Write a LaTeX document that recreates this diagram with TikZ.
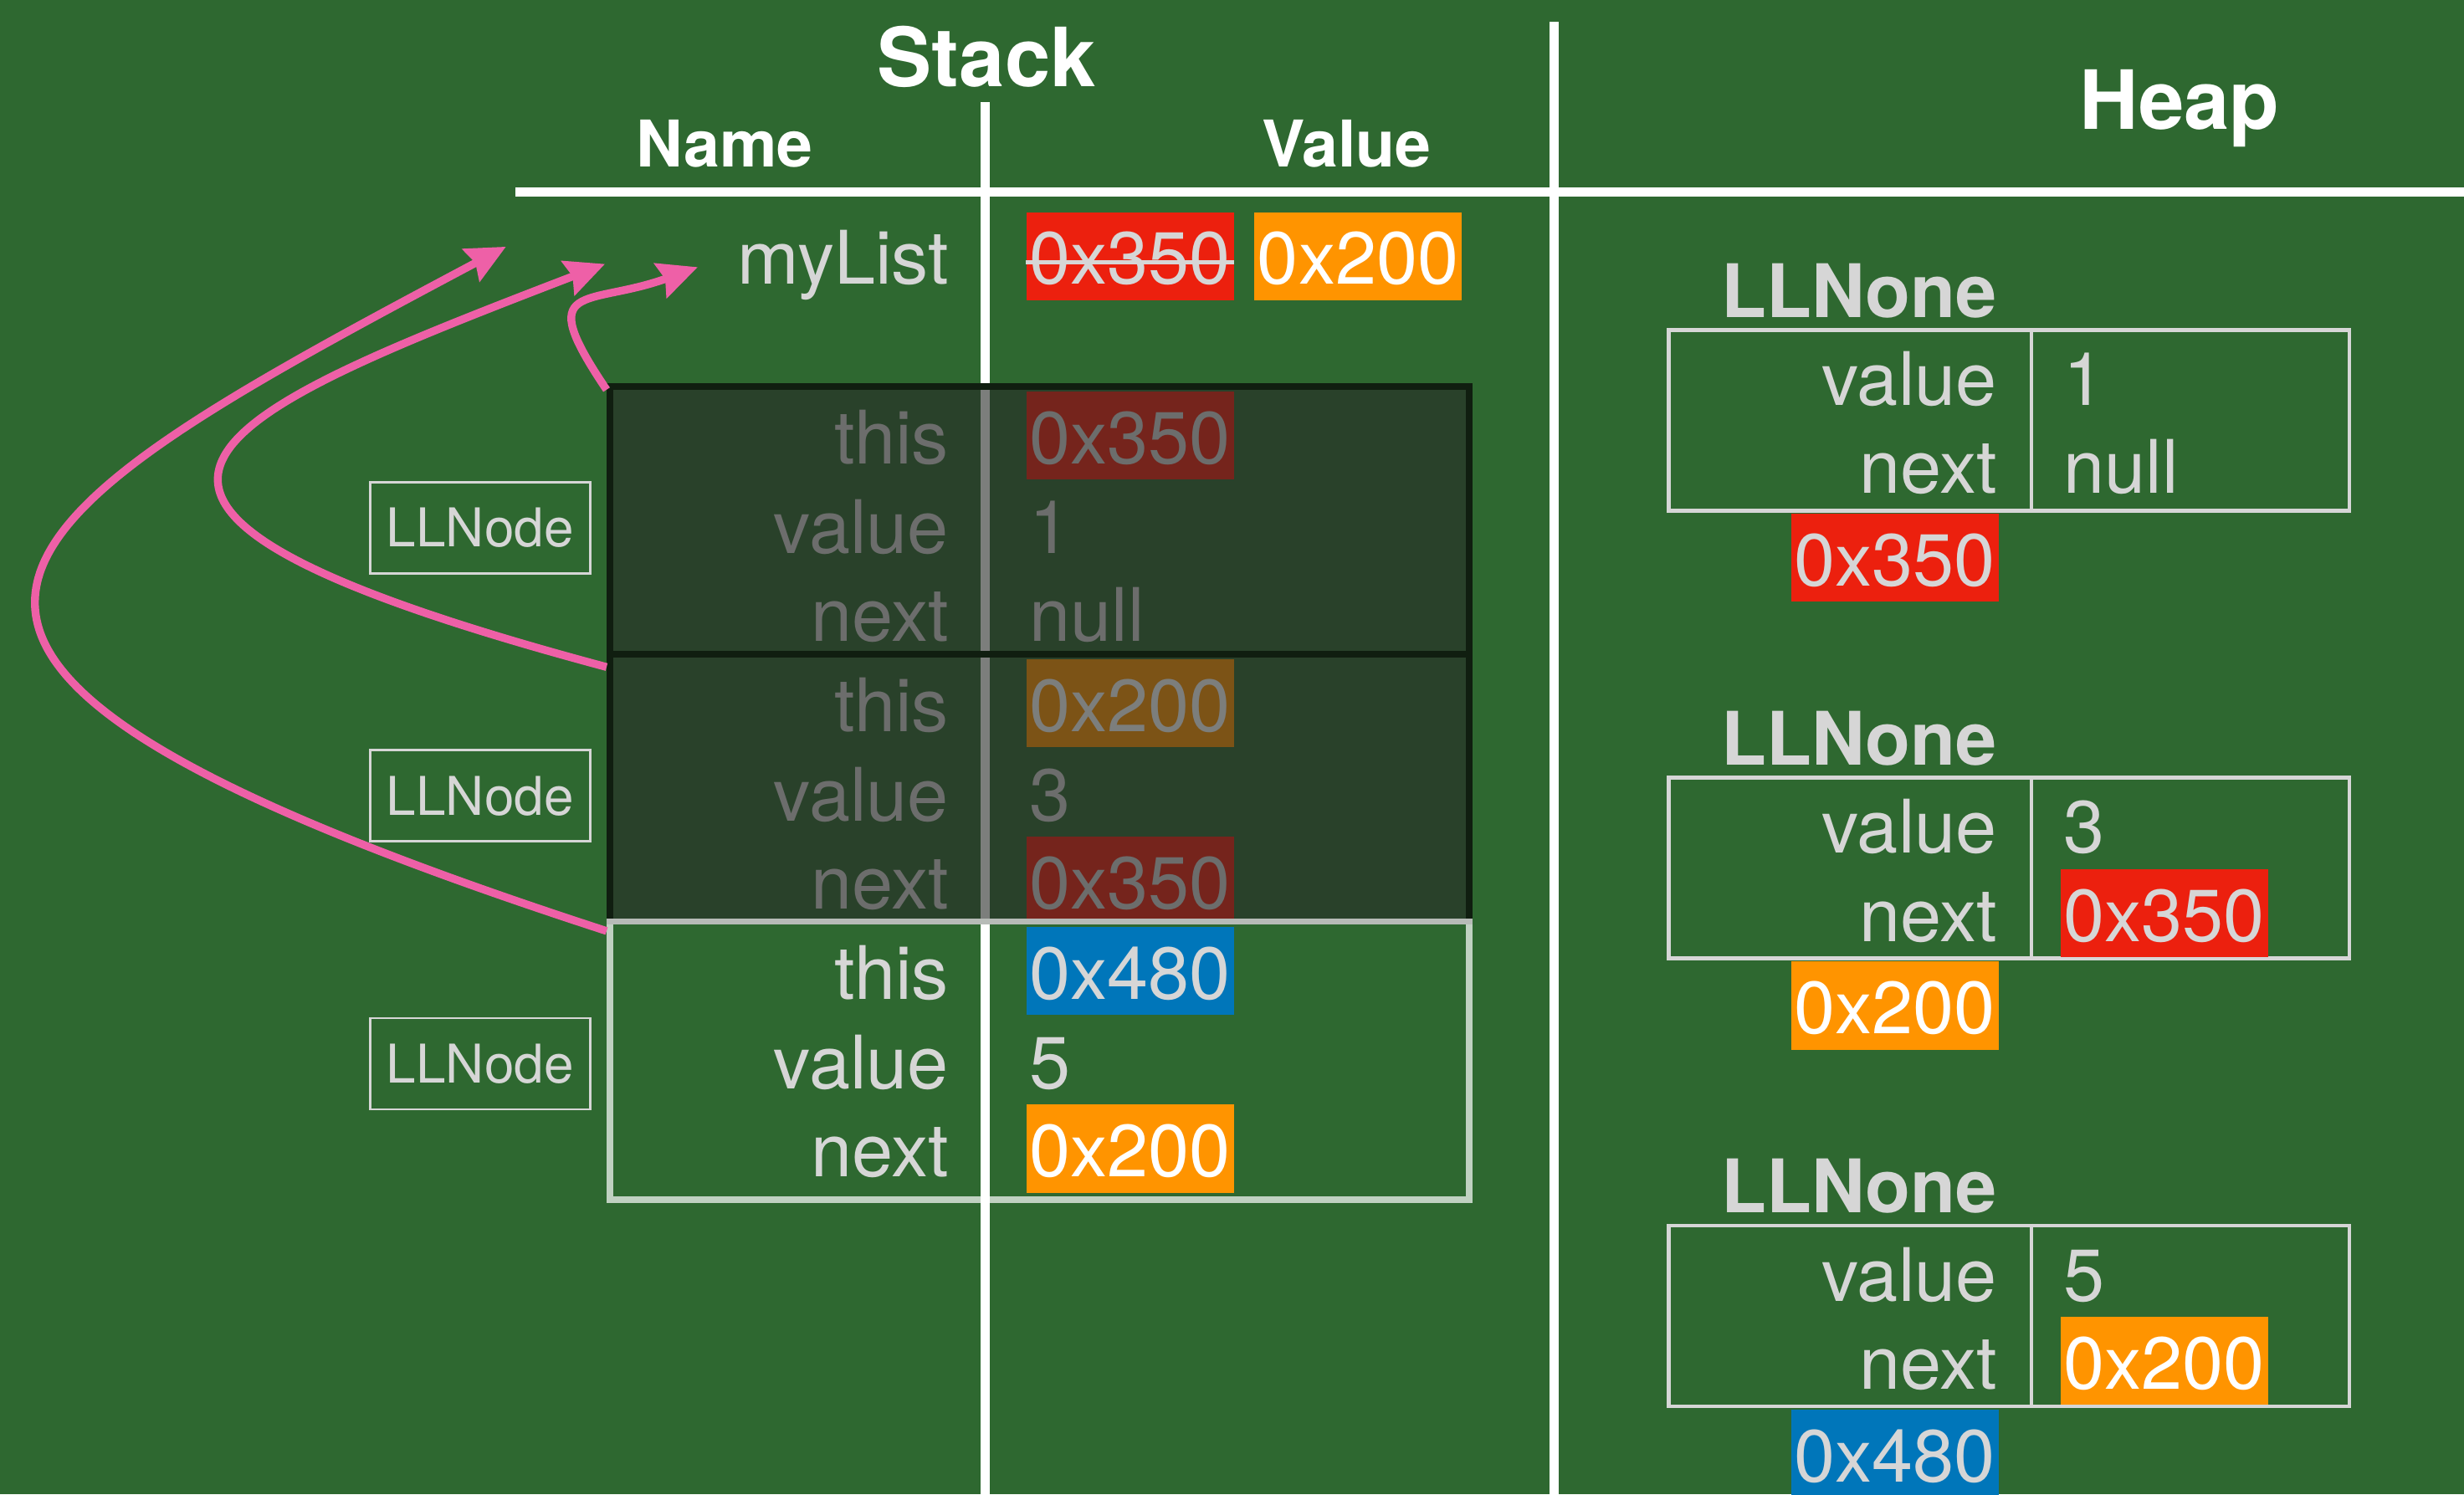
\documentclass[tikz,border=0pt]{standalone}
\usepackage{fontspec}
\setmainfont{TeX Gyre Heros}
\usetikzlibrary{arrows.meta}

\definecolor{felt}{RGB}{46,104,48}
\definecolor{chalk}{RGB}{214,214,214}
\definecolor{addrred}{RGB}{236,32,14}
\definecolor{addrorange}{RGB}{255,148,0}
\definecolor{addrblue}{RGB}{0,118,186}
\definecolor{shade}{RGB}{38,40,38}
\definecolor{shadeline}{RGB}{16,30,16}
\definecolor{arrowpink}{RGB}{238,96,167}

\begin{document}
\begin{tikzpicture}[x=1pt,y=-1pt]

  \tikzstyle{divider}=[white,line width=6pt]
  \tikzstyle{bigtitle}=[text=white,font=\bfseries\fontsize{52}{60}\selectfont,inner sep=0pt,anchor=base]
  \tikzstyle{colhead}=[text=white,font=\bfseries\fontsize{41}{48}\selectfont,inner sep=0pt,anchor=base]
  \tikzstyle{fieldname}=[text=chalk,font=\fontsize{47}{56}\selectfont,inner xsep=2pt,inner ysep=0pt,anchor=base east]
  \tikzstyle{fieldval}=[text=chalk,font=\fontsize{47}{56}\selectfont,inner xsep=2pt,inner ysep=2pt,
                        text height=44pt,text depth=8pt,anchor=base west]
  \tikzstyle{plainval}=[]
  \tikzstyle{redaddr}=[fill=addrred]
  \tikzstyle{orangeaddr}=[fill=addrorange,text=white]
  \tikzstyle{blueaddr}=[fill=addrblue]
  \tikzstyle{llnode}=[draw=chalk,line width=1.5pt,text=chalk,font=\fontsize{34}{40}\selectfont,
                      minimum width=140pt,minimum height=58pt,inner sep=0pt]
  \tikzstyle{typename}=[text=chalk,font=\bfseries\fontsize{47}{56}\selectfont,inner sep=0pt,anchor=base east]
  \tikzstyle{heapbox}=[draw=chalk,line width=2.5pt,minimum width=433pt,minimum height=115pt,inner sep=0pt]
  \tikzstyle{popped}=[fill=shade,fill opacity=0.6,draw=shadeline,line width=4pt,
                      minimum width=547pt,minimum height=170pt,inner sep=0pt]
  \tikzstyle{live}=[draw=white,draw opacity=0.7,line width=4pt,
                    minimum width=547pt,minimum height=177pt,inner sep=0pt]
  \tikzstyle{pointer}=[arrowpink,line width=5pt,-{Stealth[length=25pt,width=23pt,inset=3pt]}]

  \useasboundingbox (0,0) rectangle (1568,951);
  \clip (0,0) rectangle (1568,951);
  \fill[felt] (0,0) rectangle (1568,951);

  % table rules
  \draw[divider] (328,122) -- (1568,122);
  \draw[divider] (627,65) -- (627,951);
  \draw[divider] (989,14) -- (989,951);

  \node[bigtitle] (stack) at (628,55) {Stack};
  \node[bigtitle] (heap) at (1387,82) {Heap};
  \node[colhead] (name) at (461,106) {Name};
  \node[colhead] (value) at (857,106) {Value};

  % stack
  \node[fieldname] (mylist) at (606,181) {myList};
  \node[fieldval,redaddr] (old) at (653,181) {0x350};
  \node[fieldval,orangeaddr] (new) at (798,181) {0x200};
  \draw[chalk,line width=3pt] ([yshift=-4pt]old.west) -- ([yshift=-4pt]old.east);

  \foreach \k/\this/\tstyle/\val/\nxt/\nstyle in {0/0x350/redaddr/1/null/plainval,
                                                 1/0x200/orangeaddr/3/0x350/redaddr,
                                                 2/0x480/blueaddr/5/0x200/orangeaddr}
  {
    \node[fieldname] at (606,295+170.5*\k) {this};
    \node[fieldname] at (606,352+170.5*\k) {value};
    \node[fieldname] at (606,408+170.5*\k) {next};
    \node[fieldval,\tstyle] at (653,295+170.5*\k) {\this};
    \node[fieldval] at (653,352+170.5*\k) {\val};
    \node[fieldval,\nstyle] at (653,408+170.5*\k) {\nxt};
    \node[llnode] (type-\k) at (305.5,336+170.5*\k) {LLNode};
  }

  % heap
  \foreach \i/\val/\nxt/\nstyle/\addr/\astyle in {0/1/null/plainval/0x350/redaddr,
                                                 1/3/0x350/redaddr/0x200/orangeaddr,
                                                 2/5/0x200/orangeaddr/0x480/blueaddr}
  {
    \node[typename] (obj-\i) at (1271,202+285*\i) {LLNone};
    \node[heapbox] (heap-\i) at (1278.5,267.5+285*\i) {};
    \draw[chalk,line width=2.5pt] ([xshift=232pt]heap-\i.north west) -- ([xshift=232pt]heap-\i.south west);
    \node[fieldname] at (1273,258+285*\i) {value};
    \node[fieldname] at (1273,314+285*\i) {next};
    \node[fieldval] at (1311,258+285*\i) {\val};
    \node[fieldval,\nstyle] at (1311,314+285*\i) {\nxt};
    \node[fieldval,\astyle,anchor=base east] (addr-\i) at (1272,373+285*\i) {\addr};
  }

  % stack frames
  \node[popped] (frame-0) at (661.5,331) {};
  \node[popped] (frame-1) at (661.5,501.5) {};
  \node[live] (frame-2) at (661.5,675) {};

  \coordinate (tip-0) at (444,170);
  \coordinate (tip-1) at (385,168);
  \coordinate (tip-2) at (322,157);

  \draw[pointer] ([yshift=-4pt]frame-0.north west) .. controls +(236:85) and +(160:75) .. (tip-0);
  \draw[pointer] ([yshift=-10pt]frame-1.north west) .. controls +(195:400) and +(159:280) .. (tip-1);
  \draw[pointer] ([yshift=-8pt]frame-2.north west) .. controls +(198:570) and +(152:380) .. (tip-2);
\end{tikzpicture}
\end{document}
